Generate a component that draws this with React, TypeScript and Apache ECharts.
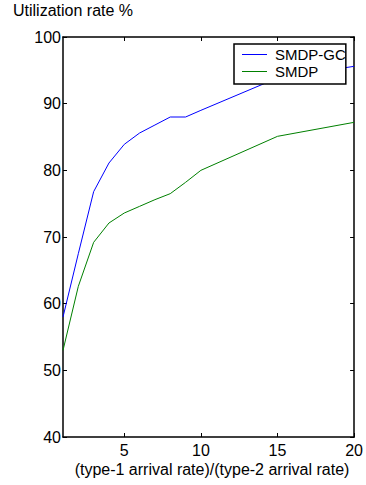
import React, { useEffect, useRef } from "react";
import * as echarts from "echarts";

const xValues = [1, 2, 3, 4, 5, 6, 7, 8, 9, 10, 15, 20];
const smdpGc = [58, 67.5, 76.8, 81.1, 83.9, 85.6, 86.8, 88, 88, 89, 93.85, 95.6];
const smdp = [53, 62.6, 69.2, 72.1, 73.6, 74.6, 75.6, 76.5, 78.2, 80, 85.1, 87.2];
const xTicks = [5, 10, 15, 20];
const seriesNames = ["SMDP-GC", "SMDP"];
const titleText = "Utilization rate %";
const xLabelText = "(type-1 arrival rate)/(type-2 arrival rate)";

const FONT = "'Liberation Sans', Arial, sans-serif";

export default function App() {
  const ref = useRef<HTMLDivElement>(null);
  useEffect(() => {
    if (!ref.current) return;
    const chart = echarts.init(ref.current, null, { renderer: "svg" });
    const axisLine = { show: true, lineStyle: { color: "#000", width: 1.5 } };
    const tickStyle = { show: true, inside: true, length: 4, lineStyle: { color: "#000", width: 1 } };
    chart.setOption({
      animation: false,
      backgroundColor: "#fff",
      grid: { left: 63, right: 11, top: 37, bottom: 48, containLabel: false },
      legend: {
        orient: "vertical",
        left: 234,
        top: 44,
        padding: [2, 0, 4, 8],
        itemGap: 0,
        itemWidth: 25,
        itemHeight: 1,
        icon: "rect",
        backgroundColor: "#fff",
        borderColor: "#000",
        borderWidth: 1.5,
        data: seriesNames,
        textStyle: { fontSize: 15, color: "#000", fontFamily: FONT, lineHeight: 17, padding: [0, 0, 0, 3] },
      },
      xAxis: [
        {
          type: "value",
          min: 1,
          max: 20,
          position: "bottom",
          axisLine,
          axisTick: { ...tickStyle, customValues: xTicks },
          axisLabel: { customValues: xTicks, fontSize: 16, color: "#000", fontFamily: FONT, margin: 5 },
          splitLine: { show: false },
        },
        {
          type: "value",
          min: 1,
          max: 20,
          position: "top",
          axisLine,
          axisTick: { ...tickStyle, customValues: xTicks },
          axisLabel: { show: false },
          splitLine: { show: false },
        },
      ],
      yAxis: [
        {
          type: "value",
          min: 40,
          max: 100,
          interval: 10,
          position: "left",
          axisLine,
          axisTick: tickStyle,
          axisLabel: { fontSize: 16, color: "#000", fontFamily: FONT, margin: 2 },
          splitLine: { show: false },
        },
        {
          type: "value",
          min: 40,
          max: 100,
          interval: 10,
          position: "right",
          axisLine,
          axisTick: tickStyle,
          axisLabel: { show: false },
          splitLine: { show: false },
        },
      ],
      series: [
        {
          name: seriesNames[0],
          type: "line",
          data: xValues.map((x, i) => [x, smdpGc[i]]),
          showSymbol: false,
          symbol: "none",
          lineStyle: { color: "#0000ff", width: 1 },
          itemStyle: { color: "#0000ff" },
        },
        {
          name: seriesNames[1],
          type: "line",
          data: xValues.map((x, i) => [x, smdp[i]]),
          showSymbol: false,
          symbol: "none",
          lineStyle: { color: "#008000", width: 1 },
          itemStyle: { color: "#008000" },
        },
      ],
      graphic: [
        {
          type: "text",
          left: 13,
          top: 2,
          style: { text: titleText, fontSize: 16, fill: "#000", fontFamily: FONT },
        },
        {
          type: "text",
          x: 212,
          y: 469,
          style: {
            text: xLabelText,
            fontSize: 16,
            fill: "#000",
            fontFamily: FONT,
            textAlign: "center",
            textVerticalAlign: "middle",
          },
        },
      ],
    });
    return () => chart.dispose();
  }, []);
  return (
    <div
      ref={ref}
      style={{ position: "fixed", left: 0, top: 0, width: 366, height: 485 }}
    />
  );
}
